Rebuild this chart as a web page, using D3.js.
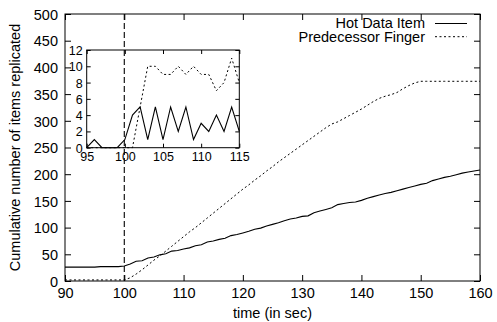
<!DOCTYPE html>
<html>
<head>
<meta charset="utf-8">
<script src="https://cdn.jsdelivr.net/npm/d3@7"></script>
<style>
  body { margin: 0; background: #fff; }
  svg { display: block; font-family: "Liberation Sans", Arial, sans-serif; }
  .domain { display: none; }
</style>
</head>
<body>
<svg id="chart" width="497" height="322"></svg>
<script>
// main plot: cumulative items replicated, one value per second from 90 to 160
const seconds = d3.range(90, 161);
const hotItem = [
  26, 26, 26, 26, 26, 26, 27, 27, 27, 27,
  28, 32, 37, 38, 43, 45, 49, 51, 56, 57,
  60, 62, 66, 68, 73, 75, 78, 80, 85, 87,
  90, 93, 97, 99, 103, 106, 109, 113, 116, 118,
  121, 122, 128, 131, 134, 137, 143, 145, 147, 148,
  151, 155, 158, 161, 164, 166, 169, 172, 175, 178,
  181, 183, 188, 191, 194, 196, 199, 202, 204, 206,
  208
];
const predFinger = [
  2, 2, 2, 2, 2, 2, 2, 2, 2, 2,
  2, 6, 13, 21, 30, 39, 47, 56, 65, 74,
  83, 92, 100, 109, 118, 127, 136, 145, 154, 163,
  172, 180, 189, 197, 206, 214, 223, 231, 239, 247,
  255, 263, 271, 279, 287, 294, 298, 304, 310, 316,
  322, 329, 336, 342, 346, 349, 353, 360, 366, 371,
  374, 374, 374, 374, 374, 374, 374, 374, 374, 374,
  374
];

// inset: items replicated per second, 95 to 115
const insetSeconds = d3.range(95, 116);
const hotRate = [0, 1, 0, 0, 0, 1, 4, 5, 1, 5, 1, 5, 2, 5, 1, 3, 2, 4, 2, 5, 2];
const predRate = [0, 0, 0, 0, 0, 0, 0, 5, 10, 10, 9, 9, 10, 9, 10, 9, 9, 7, 8, 11, 8];

const xTicks = [90, 100, 110, 120, 130, 140, 150, 160];
const yTicks = [0, 50, 100, 150, 200, 250, 300, 350, 400, 450, 500];
const insetXTicks = [95, 100, 105, 110, 115];
const insetYTicks = [0, 2, 4, 6, 8, 10, 12];
const eventTime = 100;

const svg = d3.select('#chart');
const fs = 14.5;

const x = d3.scaleLinear().domain([90, 160]).range([65, 480]);
const y = d3.scaleLinear().domain([0, 500]).range([281, 14]);

function lineFor(xs, xScale, yScale) {
  return d3.line().x((d, i) => xScale(xs[i])).y((d) => yScale(d));
}

// tick marks pointing inward on all four sides
function drawAxes(g, xs, ys, xv, yv, tick, fontSize, xPad, yPad, showLabels) {
  const [x0, x1] = xs.range();
  const [y0, y1] = ys.range();
  g.append('g').attr('transform', `translate(0,${y0})`)
    .call(d3.axisBottom(xs).tickValues(xv).tickSize(-tick).tickSizeOuter(0).tickFormat(d3.format('d')))
    .call((a) => a.selectAll('text').attr('y', xPad).attr('dy', null));
  g.append('g').attr('transform', `translate(0,${y1})`)
    .call(d3.axisTop(xs).tickValues(xv).tickSize(-tick).tickSizeOuter(0).tickFormat(''));
  g.append('g').attr('transform', `translate(${x0},0)`)
    .call(d3.axisLeft(ys).tickValues(yv).tickSize(-tick).tickSizeOuter(0).tickFormat(d3.format('d')))
    .call((a) => a.selectAll('text').attr('x', -yPad).attr('dy', '0.36em'));
  g.append('g').attr('transform', `translate(${x1},0)`)
    .call(d3.axisRight(ys).tickValues(yv).tickSize(-tick).tickSizeOuter(0).tickFormat(''));
  g.selectAll('text').attr('font-size', fontSize).attr('fill', '#000').attr('font-family', null);
  g.selectAll('.tick line').attr('stroke', '#000');
  g.append('rect')
    .attr('x', x0).attr('y', y1)
    .attr('width', x1 - x0).attr('height', y0 - y1)
    .attr('fill', 'none').attr('stroke', '#000').attr('stroke-width', 1);
}

const main = svg.append('g');
drawAxes(main, x, y, xTicks, yTicks, 6, fs, 17, 7);

main.append('path')
  .attr('d', lineFor(seconds, x, y)(hotItem))
  .attr('fill', 'none').attr('stroke', '#000').attr('stroke-width', 1.1);
main.append('path')
  .attr('d', lineFor(seconds, x, y)(predFinger))
  .attr('fill', 'none').attr('stroke', '#000').attr('stroke-width', 1)
  .attr('stroke-dasharray', '2,2.5');

// axis titles
svg.append('text')
  .attr('x', (x.range()[0] + x.range()[1]) / 2).attr('y', 318)
  .attr('text-anchor', 'middle').attr('font-size', fs)
  .text('time (in sec)');
svg.append('text')
  .attr('transform', `translate(20,${(y.range()[0] + y.range()[1]) / 2}) rotate(-90)`)
  .attr('text-anchor', 'middle').attr('font-size', fs)
  .text('Cumulative number of items replicated');

// legend
const legendItems = [
  { label: 'Hot Data Item', dash: null, ty: 28.3, ly: 23.5 },
  { label: 'Predecessor Finger', dash: '2,2.5', ty: 41.5, ly: 36.7 },
];
legendItems.forEach((d) => {
  svg.append('text')
    .attr('x', 425).attr('y', d.ty)
    .attr('text-anchor', 'end').attr('font-size', fs)
    .text(d.label);
  svg.append('line')
    .attr('x1', 435).attr('x2', 467).attr('y1', d.ly).attr('y2', d.ly)
    .attr('stroke', '#000').attr('stroke-width', 1)
    .attr('stroke-dasharray', d.dash);
});

// inset
const ix = d3.scaleLinear().domain([95, 115]).range([86.7, 239.3]);
const iy = d3.scaleLinear().domain([0, 12]).range([147.7, 50]);
const inset = svg.append('g');
inset.append('rect')
  .attr('x', 86.7).attr('y', 50).attr('width', 239.3 - 86.7).attr('height', 147.7 - 50)
  .attr('fill', '#fff');
drawAxes(inset, ix, iy, insetXTicks, insetYTicks, 4, 12.5, 13, 4);

inset.append('path')
  .attr('d', lineFor(insetSeconds, ix, iy)(hotRate))
  .attr('fill', 'none').attr('stroke', '#000').attr('stroke-width', 1.1);
inset.append('path')
  .attr('d', lineFor(insetSeconds, ix, iy)(predRate))
  .attr('fill', 'none').attr('stroke', '#000').attr('stroke-width', 1)
  .attr('stroke-dasharray', '2,2.5');

// event marker at t = 100
svg.append('line')
  .attr('x1', x(eventTime)).attr('x2', x(eventTime))
  .attr('y1', y.range()[1]).attr('y2', y.range()[0])
  .attr('stroke', '#000').attr('stroke-width', 1.1)
  .attr('stroke-dasharray', '6,3');
</script>
</body>
</html>
